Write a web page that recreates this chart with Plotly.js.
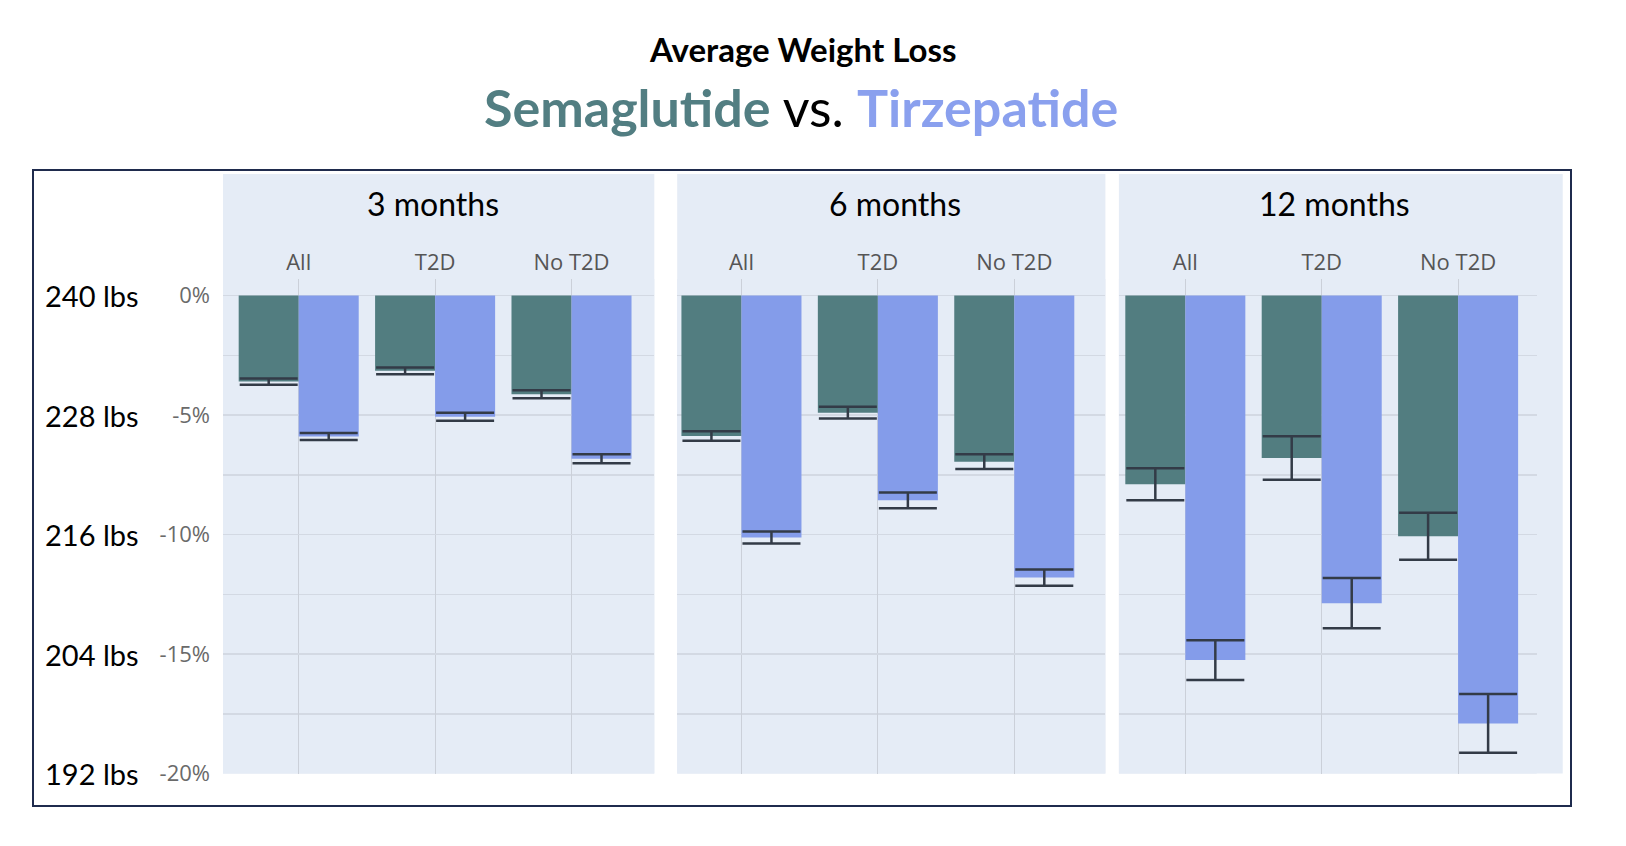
<!DOCTYPE html>
<html>
<head>
<meta charset="utf-8">
<script src="https://cdn.plot.ly/plotly-3.0.1.min.js"></script>
<style>
  html, body { margin: 0; padding: 0; background: #ffffff; }
  #chart { width: 1626px; height: 846px; }
</style>
</head>
<body>
<div id="chart"></div>
<script>
// ---- data ----
const categories = ['All', 'T2D', 'No T2D'];
const periods = ['3 months', '6 months', '12 months'];

const sema3 = [-3.60, -3.15, -4.13];
const sema3Err = [0.13, 0.14, 0.17];
const tirz3 = [-5.90, -5.07, -6.83];
const tirz3Err = [0.15, 0.17, 0.19];

const sema6 = [-5.88, -4.90, -6.95];
const sema6Err = [0.20, 0.25, 0.31];
const tirz6 = [-10.12, -8.57, -11.80];
const tirz6Err = [0.25, 0.33, 0.34];

const sema12 = [-7.90, -6.80, -10.07];
const sema12Err = [0.67, 0.91, 0.98];
const tirz12 = [-15.25, -12.87, -17.90];
const tirz12Err = [0.83, 1.05, 1.23];

const pctTicks = [0, -5, -10, -15, -20];
const pctText = ['0%', '-5%', '-10%', '-15%', '-20%'];
const minorTicks = [-2.5, -7.5, -12.5, -17.5];
const lbsLabels = ['240 lbs', '228 lbs', '216 lbs', '204 lbs', '192 lbs'];

// ---- styling ----
const TEAL = '#527d80';
const BLUE = '#849cea';
const ERR = '#333b47';
const PANEL_BG = '#e5ecf6';
const GRID = '#d3d9e3';

const semaSeries = [sema3, sema6, sema12];
const semaErrs = [sema3Err, sema6Err, sema12Err];
const tirzSeries = [tirz3, tirz6, tirz12];
const tirzErrs = [tirz3Err, tirz6Err, tirz12Err];

const traces = [];
for (let i = 0; i < 3; i++) {
  const xa = i === 0 ? 'x' : 'x' + (i + 1);
  traces.push({
    type: 'bar', x: categories, y: semaSeries[i], xaxis: xa, yaxis: 'y',
    name: 'Semaglutide', marker: { color: TEAL, line: { width: 0 } },
    error_y: { type: 'data', array: semaErrs[i], visible: true, color: ERR, thickness: 2.5, width: 29 },
    showlegend: false, hoverinfo: 'y'
  });
  traces.push({
    type: 'bar', x: categories, y: tirzSeries[i], xaxis: xa, yaxis: 'y',
    name: 'Tirzepatide', marker: { color: BLUE, line: { width: 0 } },
    error_y: { type: 'data', array: tirzErrs[i], visible: true, color: ERR, thickness: 2.5, width: 29 },
    showlegend: false, hoverinfo: 'y'
  });
}

const W = 1626, H = 846;
const px = v => v / W;
const py = v => 1 - v / H;

function xAxis(domain, range) {
  return {
    type: 'category', categoryorder: 'array', categoryarray: categories,
    domain: domain, range: range, anchor: 'y', side: 'top',
    showgrid: true, gridcolor: '#cbd0d9', gridwidth: 1,
    zeroline: false, showline: false, ticks: '',
    tickfont: { family: 'Open Sans, sans-serif', size: 22, color: '#555555' },
    ticklabelstandoff: 4, fixedrange: true
  };
}

const plotBottom = py(773.6);
const plotTop = py(279);
const bgTop = py(174);

const annotations = [
  { text: '<b>Average Weight Loss</b>', xref: 'paper', yref: 'paper', x: px(802), y: py(49),
    xanchor: 'center', yanchor: 'middle', showarrow: false,
    font: { family: 'Lato, sans-serif', size: 33, color: '#000000' } },
  { text: '<b><span style="color:#527e82">Semaglutide</span></b> vs. <b><span style="color:#8aa0ee">Tirzepatide</span></b>',
    xref: 'paper', yref: 'paper', x: px(801), y: py(107),
    xanchor: 'center', yanchor: 'middle', showarrow: false,
    font: { family: 'Lato, sans-serif', size: 52, color: '#000000' } }
];
const panelRefs = ['x domain', 'x2 domain', 'x3 domain'];
const panelTitleX = [0.488, 0.509, 0.516];
periods.forEach((p, i) => {
  annotations.push({ text: p, xref: panelRefs[i], yref: 'paper', x: panelTitleX[i], y: py(203),
    xanchor: 'center', yanchor: 'middle', showarrow: false,
    font: { family: 'Lato, sans-serif', size: 32, color: '#000000' } });
});
lbsLabels.forEach((t, i) => {
  annotations.push({ text: t, xref: 'paper', yref: 'y', x: px(43), y: pctTicks[i],
    xanchor: 'left', yanchor: 'middle', showarrow: false,
    font: { family: 'Lato, sans-serif', size: 29, color: '#000000' } });
});

const shapes = [
  // panel backgrounds (extend above plot area)
  { type: 'rect', xref: 'x domain', yref: 'paper', x0: 0, x1: 1, y0: plotBottom, y1: bgTop,
    fillcolor: PANEL_BG, line: { width: 0 }, layer: 'below' },
  { type: 'rect', xref: 'x2 domain', yref: 'paper', x0: 0, x1: 1, y0: plotBottom, y1: bgTop,
    fillcolor: PANEL_BG, line: { width: 0 }, layer: 'below' },
  { type: 'rect', xref: 'x3 domain', yref: 'paper', x0: 0, x1: 1.062, y0: plotBottom, y1: bgTop,
    fillcolor: PANEL_BG, line: { width: 0 }, layer: 'below' },
  // outer frame
  { type: 'rect', xref: 'paper', yref: 'paper', x0: px(33), x1: px(1571), y0: py(806), y1: py(170),
    fillcolor: 'rgba(0,0,0,0)', line: { color: '#1f2b4d', width: 2 }, layer: 'above' }
];

const layout = {
  width: W, height: H,
  margin: { l: 0, r: 0, t: 0, b: 0, pad: 0 },
  paper_bgcolor: '#ffffff', plot_bgcolor: PANEL_BG,
  barmode: 'group', bargap: 0.12, bargroupgap: 0,
  showlegend: false,
  font: { family: 'Open Sans, sans-serif' },
  xaxis: xAxis([px(223), px(654.3)], [-0.555, 2.607]),
  xaxis2: xAxis([px(677.2), px(1105.4)], [-0.471, 2.668]),
  xaxis3: xAxis([px(1118.9), px(1536.8)], [-0.487, 2.577]),
  yaxis: {
    domain: [plotBottom, plotTop], range: [-20, 0.69], anchor: 'x',
    tickmode: 'array', tickvals: pctTicks, ticktext: pctText,
    showgrid: true, gridcolor: GRID, gridwidth: 1.5,
    minor: { tickvals: minorTicks, showgrid: true, gridcolor: GRID, gridwidth: 1.5, ticks: '' },
    zeroline: false, showline: false, ticks: '',
    tickfont: { family: 'Open Sans, sans-serif', size: 22, color: '#6a6a6a' },
    ticklabelstandoff: 12, fixedrange: true
  },
  annotations: annotations,
  shapes: shapes
};

Plotly.newPlot('chart', traces, layout, { displayModeBar: false, staticPlot: true });
</script>
</body>
</html>
